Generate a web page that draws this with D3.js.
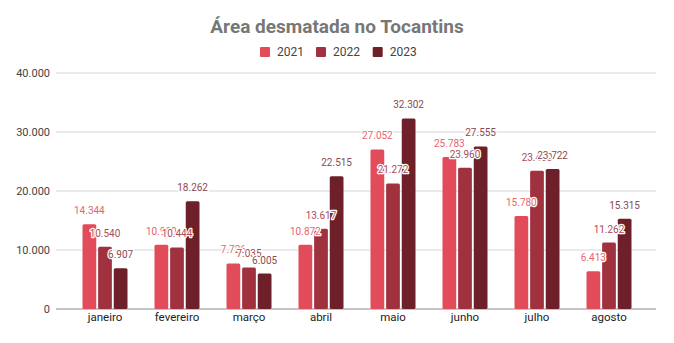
<!DOCTYPE html>
<html><head><meta charset="utf-8">
<script src="https://cdn.jsdelivr.net/npm/d3@7"></script>
<style>body{margin:0;background:#fff}svg{display:block}</style>
</head><body>
<svg id="c" width="674" height="343"></svg>
<script>
const categories = ["janeiro","fevereiro","março","abril","maio","junho","julho","agosto"];
const seriesNames = ["2021","2022","2023"];
const v2021 = [14344,10900,7726,10872,27052,25783,15780,6413];
const v2022 = [10540,10444,7035,13617,21272,23960,23450,11262];
const v2023 = [6907,18262,6005,22515,32302,27555,23722,15315];
const yTicks = [0,10000,20000,30000,40000];
const colors = ["#e24b59","#a0323f","#6d2029"];
const labelColors = ["#e8636f","#a84d57","#8a4a51"];
const series = [v2021,v2022,v2023];

const svg = d3.select("#c");
const fmt = d => d3.format(",")(d).replace(/,/g,".");
const x = d3.scaleBand().domain(categories).range([69,645]);
const xs = d3.scaleBand().domain(seriesNames).range([0,45]).paddingInner(0.12);
const y = d3.scaleLinear().domain([0,40000]).range([309,73]);

// title
svg.append("text").attr("x",337).attr("y",33).attr("text-anchor","middle")
  .attr("font-family","Roboto, Arial, sans-serif").attr("font-weight","bold").attr("font-size",19)
  .attr("fill","#777").text("Área desmatada no Tocantins");

// legend
const legX = [260,316,372.7];
seriesNames.forEach((s,i)=>{
  svg.append("rect").attr("x",legX[i]).attr("y",47).attr("width",10).attr("height",10).attr("rx",1).attr("fill",colors[i]);
  svg.append("text").attr("x",legX[i]+17).attr("y",56).attr("font-family","Roboto, Arial, sans-serif")
    .attr("font-size",12).attr("fill","#444").text(s);
});

// gridlines
svg.append("g").selectAll("line").data(yTicks).join("line")
  .attr("x1",56).attr("x2",656).attr("y1",d=>y(d)).attr("y2",d=>y(d))
  .attr("stroke",d=>d===0?"#888":"#d6d6d6").attr("stroke-width",d=>d===0?1.2:1);

// y axis labels
const yAxis = d3.axisLeft(y).tickValues(yTicks).tickFormat(fmt).tickSize(0).tickPadding(0);
const ya = svg.append("g").attr("transform","translate(50,0)").call(yAxis);
ya.select(".domain").remove();
ya.selectAll("text").attr("font-family","Roboto, Arial, sans-serif").attr("font-size",11).attr("fill","#444");

// x axis labels
const xAxis = d3.axisBottom(x).tickSize(0).tickPadding(0);
const xa = svg.append("g").attr("transform","translate(0,313)").call(xAxis);
xa.select(".domain").remove();
xa.selectAll("text").attr("font-family","Roboto, Arial, sans-serif").attr("font-size",11.5).attr("fill","#222");

// bars
const groupOff = (x.bandwidth()-45)/2;
series.forEach((vals,si)=>{
  const g = svg.append("g");
  g.selectAll("rect").data(vals).join("rect")
    .attr("x",(d,i)=>x(categories[i])+groupOff+xs(seriesNames[si]))
    .attr("y",d=>y(d)).attr("width",xs.bandwidth()).attr("height",d=>y(0)-y(d))
    .attr("rx",1.5).attr("fill",colors[si]);
});
// labels
series.forEach((vals,si)=>{
  const g = svg.append("g");
  g.selectAll("text").data(vals).join("text")
    .attr("x",(d,i)=>x(categories[i])+groupOff+xs(seriesNames[si])+xs.bandwidth()/2)
    .attr("y",d=>y(d)-10).attr("text-anchor","middle")
    .attr("font-family","Roboto, Arial, sans-serif").attr("font-size",10)
    .attr("fill",labelColors[si]).attr("stroke","#fff").attr("stroke-width",2.5)
    .attr("paint-order","stroke").attr("stroke-linejoin","round")
    .text(fmt);
});
</script>
</body></html>
